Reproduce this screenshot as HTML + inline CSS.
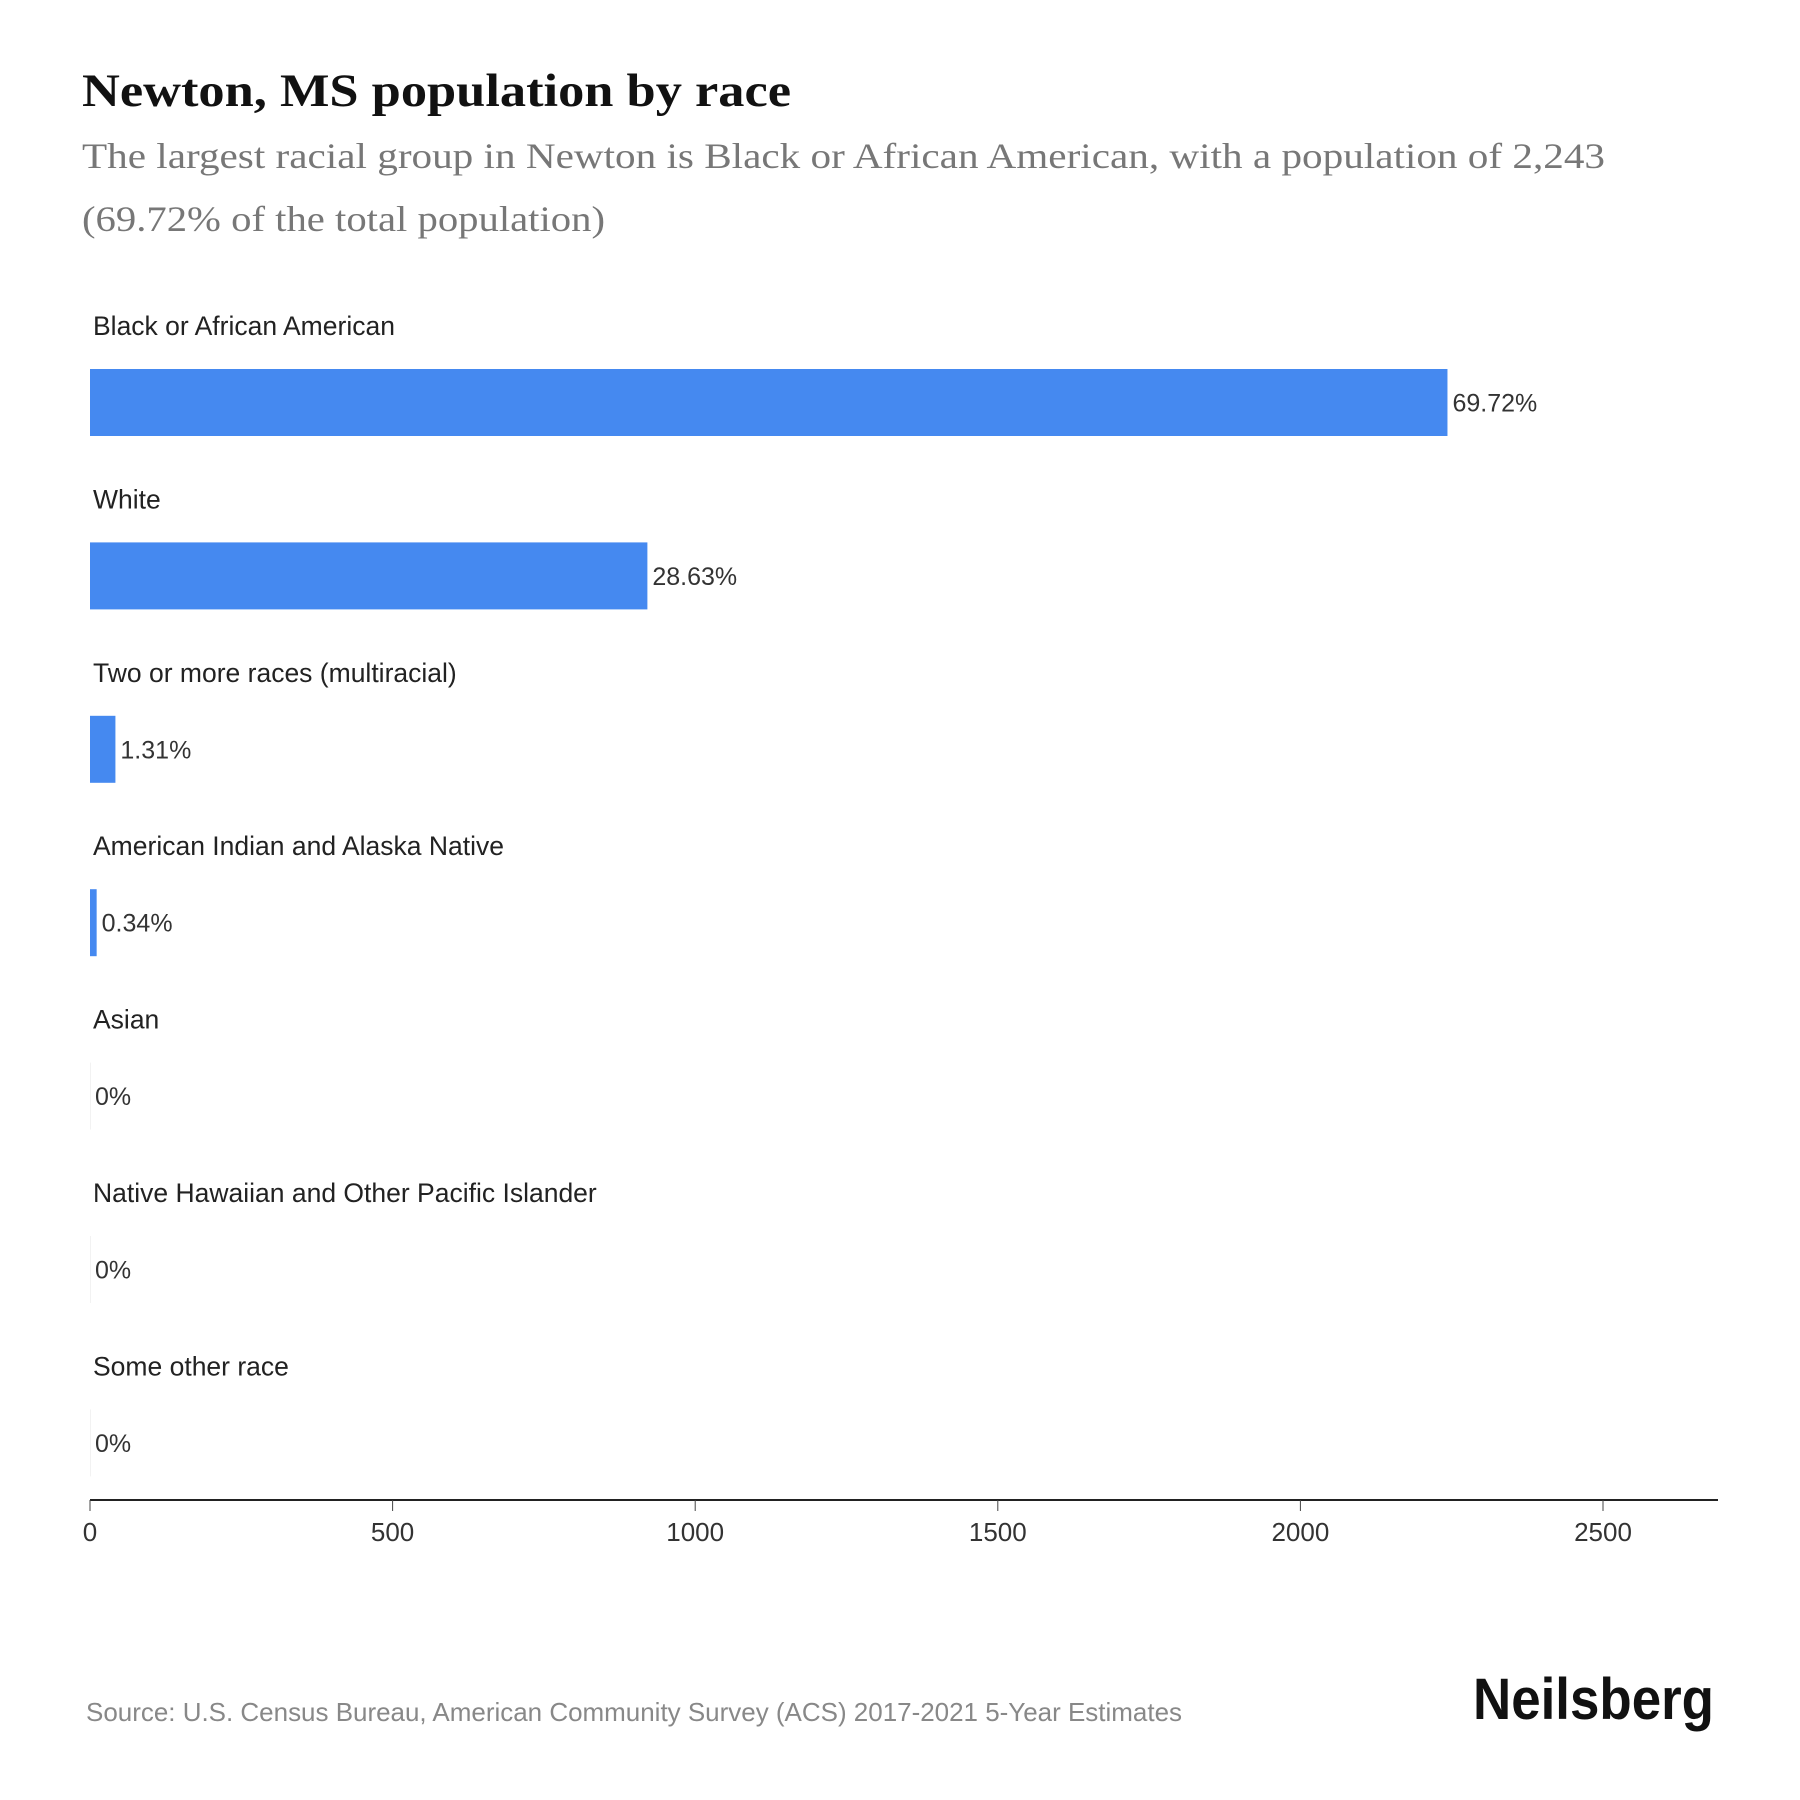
<!DOCTYPE html>
<html><head><meta charset="utf-8">
<style>
html,body{margin:0;padding:0;background:#fff;}
svg{display:block;}
</style></head>
<body>
<svg id="chart" width="1800" height="1800" viewBox="0 0 1800 1800" xmlns="http://www.w3.org/2000/svg">
<text x="82" y="106" font-family="Liberation Serif, serif" font-weight="bold" font-size="47" fill="#111" textLength="709" lengthAdjust="spacingAndGlyphs">Newton, MS population by race</text>
<text x="82" y="168" font-family="Liberation Serif, serif" font-size="36" fill="#777" textLength="1523" lengthAdjust="spacingAndGlyphs">The largest racial group in Newton is Black or African American, with a population of 2,243</text>
<text x="82" y="231" font-family="Liberation Serif, serif" font-size="36" fill="#777" textLength="523" lengthAdjust="spacingAndGlyphs">(69.72% of the total population)</text>
<g id="bars"></g>
<g id="axis"></g>
<text x="86" y="1721" font-family="Liberation Sans, sans-serif" font-size="26" fill="#888" textLength="1096" lengthAdjust="spacingAndGlyphs">Source: U.S. Census Bureau, American Community Survey (ACS) 2017-2021 5-Year Estimates</text>
<text x="1473" y="1719" font-family="Liberation Sans, sans-serif" font-weight="bold" font-size="58" fill="#111" textLength="241" lengthAdjust="spacingAndGlyphs">Neilsberg</text>
</svg>
<script>
const categories = ["Black or African American","White","Two or more races (multiracial)","American Indian and Alaska Native","Asian","Native Hawaiian and Other Pacific Islander","Some other race"];
const values = [2243, 921, 42, 11, 0, 0, 0];
const percentLabels = ["69.72%","28.63%","1.31%","0.34%","0%","0%","0%"];
const ticks = [0, 500, 1000, 1500, 2000, 2500];

const NS = "http://www.w3.org/2000/svg";
const x0 = 90, pxPerUnit = (1603 - 90) / 2500;
function xScale(v){ return x0 + v * pxPerUnit; }
const rowTop = 369, rowStep = 173.4, barH = 67;
function yBar(i){ return rowTop + i * rowStep; }

const bars = document.getElementById('bars');
categories.forEach((c, i) => {
  const lab = document.createElementNS(NS, 'text');
  lab.setAttribute('x', 93);
  lab.setAttribute('y', yBar(i) - 34);
  lab.setAttribute('font-family', 'Liberation Sans, sans-serif');
  lab.setAttribute('font-size', '26.5');
  lab.setAttribute('fill', '#222');
  lab.textContent = c;
  
  
  bars.appendChild(lab);

  const w = Math.max(xScale(values[i]) - x0, 0);
  const r = document.createElementNS(NS, 'rect');
  r.setAttribute('x', x0);
  r.setAttribute('y', yBar(i));
  r.setAttribute('width', w > 0 ? w : 1);
  r.setAttribute('height', barH);
  r.setAttribute('fill', w > 0 ? '#4589f0' : '#f2f2f2');
  
  
  bars.appendChild(r);

  const v = document.createElementNS(NS, 'text');
  v.setAttribute('x', xScale(values[i]) + 5);
  v.setAttribute('y', yBar(i) + barH / 2 + 9);
  v.setAttribute('font-family', 'Liberation Sans, sans-serif');
  v.setAttribute('font-size', '25');
  v.setAttribute('fill', '#333');
  v.textContent = percentLabels[i];
  
  
  bars.appendChild(v);
});

const axis = document.getElementById('axis');
const line = document.createElementNS(NS, 'line');
line.setAttribute('x1', x0); line.setAttribute('x2', 1718);
line.setAttribute('y1', 1500); line.setAttribute('y2', 1500);
line.setAttribute('stroke', '#222'); line.setAttribute('stroke-width', '2');


axis.appendChild(line);
ticks.forEach(t => {
  const tk = document.createElementNS(NS, 'line');
  tk.setAttribute('x1', xScale(t)); tk.setAttribute('x2', xScale(t));
  tk.setAttribute('y1', 1500); tk.setAttribute('y2', 1511);
  tk.setAttribute('stroke', '#444'); tk.setAttribute('stroke-width', '1');
  
  
  axis.appendChild(tk);
  const tl = document.createElementNS(NS, 'text');
  tl.setAttribute('x', xScale(t)); tl.setAttribute('y', 1541);
  tl.setAttribute('text-anchor', 'middle');
  tl.setAttribute('font-family', 'Liberation Sans, sans-serif');
  tl.setAttribute('font-size', '26');
  tl.setAttribute('fill', '#333');
  tl.textContent = t;
  
  
  axis.appendChild(tl);
});
</script>
</body></html>
